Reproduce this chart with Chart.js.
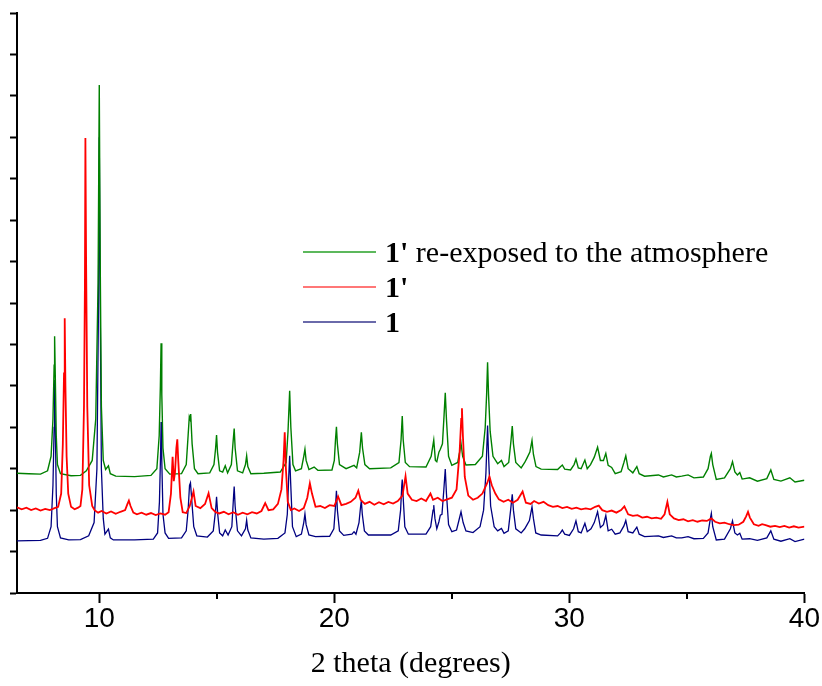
<!DOCTYPE html>
<html>
<head>
<meta charset="utf-8">
<script src="https://cdn.jsdelivr.net/npm/chart.js@4/dist/chart.umd.min.js"></script>
<style>
  html, body { margin: 0; padding: 0; background: #fff; }
  #wrap { position: relative; width: 822px; height: 686px; }
  #legend { position: absolute; left: 303px; top: 234px; font-family: 'Liberation Serif', 'Times New Roman', serif; font-size: 30px; color: #000; }
  .row { display: flex; align-items: center; height: 35px; line-height: 35px; white-space: nowrap; }
  .sw { display: inline-block; width: 73px; height: 2px; margin-right: 9px; }
</style>
</head>
<body>
<div id="wrap">
  <canvas id="c" width="822" height="686"></canvas>
  <div id="legend">
    <div class="row"><span class="sw" style="background:#5cb85c"></span><span><b>1'</b> re-exposed to the atmosphere</span></div>
    <div class="row"><span class="sw" style="background:#ff7777"></span><span><b>1'</b></span></div>
    <div class="row"><span class="sw" style="background:#6a6aaa"></span><span><b>1</b></span></div>
  </div>
</div>
<script>
// ---- data: [2theta (deg), intensity (offset, arb. units)] ----
const seriesNames = ["1' re-exposed to the atmosphere", "1'", "1"];
const xTicks = [10, 20, 30, 40];
const xMinorTicks = [15, 25, 35];
const yTicks = [0,1,2,3,4,5,6,7,8,9,10,11,12,13,14];

const green = [[6.5,2.89],[7.0,2.88],[7.5,2.87],[7.8,2.95],[7.95,3.3],[8.03,4.2],[8.08,5.5],[8.10,6.20],[8.13,5.2],[8.17,3.8],[8.22,3.1],[8.35,2.88],[8.8,2.83],[9.2,2.84],[9.45,2.95],[9.7,3.2],[9.85,4.2],[9.95,7.5],[10.0,12.26],[10.04,8.0],[10.09,4.5],[10.17,3.2],[10.27,2.98],[10.39,3.07],[10.47,2.88],[10.7,2.82],[11.5,2.81],[12.2,2.84],[12.45,3.0],[12.55,3.8],[12.60,5.0],[12.63,6.03],[12.66,4.8],[12.71,3.5],[12.8,3.0],[13.0,2.87],[13.5,2.88],[13.7,3.1],[13.78,3.8],[13.83,4.25],[13.86,4.20],[13.89,4.32],[13.95,3.6],[14.05,3.0],[14.2,2.88],[14.7,2.90],[14.88,3.1],[14.95,3.5],[14.99,3.81],[15.03,3.4],[15.12,2.95],[15.25,2.92],[15.36,3.07],[15.46,2.90],[15.62,3.1],[15.70,3.7],[15.74,3.97],[15.78,3.5],[15.88,2.95],[16.1,2.90],[16.22,3.1],[16.27,3.31],[16.32,3.05],[16.45,2.88],[17.0,2.89],[17.7,2.92],[17.95,3.15],[18.03,3.9],[18.10,4.88],[18.15,4.0],[18.24,3.1],[18.35,2.95],[18.6,3.0],[18.70,3.3],[18.75,3.47],[18.80,3.2],[18.92,2.98],[19.14,3.04],[19.3,2.96],[19.9,2.97],[20.0,3.2],[20.05,3.7],[20.09,4.01],[20.13,3.6],[20.22,3.1],[20.5,3.0],[20.84,3.08],[20.95,3.02],[21.08,3.4],[21.15,3.88],[21.20,3.5],[21.3,3.1],[21.5,3.00],[22.4,3.02],[22.75,3.15],[22.84,3.7],[22.89,4.27],[22.93,3.7],[23.02,3.15],[23.2,3.05],[23.9,3.04],[24.12,3.3],[24.23,3.69],[24.30,3.2],[24.36,3.17],[24.45,3.4],[24.51,3.47],[24.6,3.6],[24.67,4.3],[24.72,4.83],[24.77,4.2],[24.86,3.3],[25.0,3.08],[25.25,3.15],[25.33,3.4],[25.39,3.61],[25.46,3.3],[25.6,3.09],[26.0,3.1],[26.3,3.3],[26.42,4.0],[26.48,4.8],[26.52,5.57],[26.56,4.8],[26.63,3.9],[26.75,3.3],[26.95,3.12],[27.11,3.2],[27.22,3.05],[27.42,3.15],[27.52,3.7],[27.57,4.03],[27.62,3.6],[27.72,3.15],[27.95,3.02],[28.1,3.15],[28.19,3.25],[28.32,3.4],[28.41,3.68],[28.47,3.35],[28.58,3.05],[28.8,2.99],[29.5,2.98],[29.62,3.05],[29.70,3.09],[29.8,2.99],[30.05,2.97],[30.2,3.1],[30.28,3.23],[30.38,3.02],[30.5,3.00],[30.66,3.21],[30.76,3.00],[30.9,3.1],[31.06,3.28],[31.20,3.52],[31.32,3.2],[31.45,3.2],[31.55,3.37],[31.65,3.08],[31.80,3.03],[31.95,2.88],[32.2,2.93],[32.32,3.15],[32.40,3.31],[32.50,3.0],[32.7,2.9],[32.87,3.05],[32.97,2.88],[33.2,2.82],[33.79,2.85],[34.0,2.80],[34.35,2.85],[34.55,2.80],[34.78,2.82],[35.05,2.85],[35.3,2.78],[35.7,2.80],[35.9,3.0],[36.0,3.3],[36.04,3.37],[36.10,3.1],[36.25,2.74],[36.6,2.78],[36.85,3.0],[36.94,3.17],[37.04,2.92],[37.15,2.85],[37.25,2.91],[37.35,2.75],[37.67,2.78],[38.0,2.70],[38.4,2.76],[38.57,2.97],[38.70,2.74],[39.0,2.70],[39.38,2.78],[39.6,2.68],[40.0,2.72]];

const red = [[6.5,2.07],[6.7,2.02],[6.9,2.06],[7.1,2.00],[7.3,2.04],[7.5,1.99],[7.7,2.03],[7.9,2.00],[8.1,2.05],[8.25,2.08],[8.38,2.4],[8.45,3.6],[8.50,5.3],[8.53,6.63],[8.56,5.0],[8.61,3.3],[8.68,2.4],[8.8,2.08],[8.95,2.02],[9.1,2.06],[9.2,2.1],[9.28,2.5],[9.35,4.5],[9.39,7.5],[9.41,10.98],[9.44,8.0],[9.49,4.5],[9.57,2.6],[9.7,2.1],[9.8,2.0],[9.95,1.94],[10.1,1.98],[10.3,1.92],[10.5,1.97],[10.7,1.91],[10.9,1.96],[11.1,2.0],[11.2,2.15],[11.26,2.23],[11.33,2.1],[11.45,1.94],[11.6,1.90],[11.8,1.94],[12.0,1.89],[12.2,1.93],[12.4,1.88],[12.6,1.92],[12.8,1.89],[12.95,1.95],[13.05,2.4],[13.12,3.29],[13.17,2.7],[13.22,2.9],[13.28,3.5],[13.32,3.71],[13.36,3.2],[13.45,2.3],[13.55,1.95],[13.7,1.93],[13.85,2.1],[14.01,2.45],[14.1,2.1],[14.3,2.05],[14.5,2.15],[14.65,2.41],[14.78,2.05],[14.95,1.95],[15.1,1.92],[15.3,1.96],[15.5,1.90],[15.7,1.95],[15.9,1.89],[16.1,1.94],[16.3,1.90],[16.5,1.95],[16.7,1.92],[16.9,1.98],[17.06,2.17],[17.2,2.0],[17.4,2.02],[17.6,2.15],[17.75,2.5],[17.84,3.2],[17.89,3.88],[17.94,3.0],[18.02,2.2],[18.15,2.0],[18.3,2.04],[18.5,1.98],[18.7,2.05],[18.85,2.3],[18.96,2.65],[19.05,2.4],[19.2,2.08],[19.4,2.10],[19.6,2.05],[19.8,2.12],[20.0,2.10],[20.16,2.33],[20.3,2.12],[20.5,2.15],[20.7,2.2],[20.9,2.3],[21.02,2.47],[21.12,2.25],[21.3,2.15],[21.5,2.2],[21.7,2.13],[21.9,2.19],[22.1,2.14],[22.3,2.2],[22.5,2.16],[22.7,2.22],[22.9,2.35],[23.03,2.82],[23.12,2.4],[23.3,2.25],[23.5,2.22],[23.7,2.28],[23.9,2.22],[24.09,2.4],[24.2,2.25],[24.4,2.3],[24.6,2.22],[24.8,2.26],[25.0,2.3],[25.2,2.5],[25.33,3.4],[25.40,4.2],[25.43,4.46],[25.47,3.8],[25.55,2.8],[25.7,2.35],[25.9,2.25],[26.1,2.3],[26.3,2.4],[26.5,2.65],[26.60,2.81],[26.7,2.6],[26.85,2.4],[27.0,2.26],[27.2,2.2],[27.4,2.25],[27.6,2.18],[27.8,2.25],[28.01,2.45],[28.15,2.18],[28.35,2.15],[28.5,2.22],[28.7,2.16],[28.9,2.20],[29.1,2.12],[29.3,2.08],[29.5,2.10],[29.7,2.05],[29.9,2.08],[30.1,2.03],[30.3,2.06],[30.5,2.02],[30.7,2.04],[30.9,2.02],[31.1,2.08],[31.25,2.11],[31.4,2.0],[31.6,1.96],[31.8,1.99],[32.0,1.94],[32.2,2.0],[32.34,2.09],[32.5,1.9],[32.7,1.86],[32.9,1.88],[33.1,1.82],[33.3,1.84],[33.5,1.80],[33.7,1.82],[33.9,1.79],[34.05,1.9],[34.17,2.20],[34.27,1.9],[34.45,1.80],[34.65,1.76],[34.85,1.78],[35.05,1.73],[35.25,1.76],[35.45,1.72],[35.65,1.75],[35.85,1.74],[36.04,1.80],[36.2,1.72],[36.4,1.68],[36.6,1.70],[36.8,1.66],[37.0,1.64],[37.2,1.65],[37.4,1.72],[37.52,1.85],[37.60,1.96],[37.68,1.82],[37.85,1.66],[38.05,1.62],[38.2,1.66],[38.35,1.64],[38.55,1.60],[38.75,1.62],[38.95,1.59],[39.15,1.62],[39.35,1.58],[39.55,1.61],[39.75,1.58],[40.0,1.60]];

const blue = [[6.5,1.26],[7.5,1.27],[7.8,1.32],[7.95,1.6],[8.03,2.6],[8.08,4.0],[8.10,5.14],[8.13,4.0],[8.17,2.4],[8.22,1.6],[8.35,1.33],[8.7,1.28],[9.2,1.29],[9.55,1.38],[9.78,1.7],[9.9,3.0],[9.96,6.5],[10.0,11.0],[10.04,7.0],[10.09,3.0],[10.17,1.8],[10.24,1.42],[10.39,1.54],[10.47,1.33],[10.6,1.28],[11.5,1.28],[12.3,1.30],[12.48,1.45],[12.56,2.2],[12.61,3.4],[12.63,4.13],[12.66,3.2],[12.71,1.9],[12.8,1.45],[12.95,1.32],[13.5,1.33],[13.7,1.5],[13.78,2.0],[13.84,2.6],[13.88,2.66],[13.94,2.2],[14.02,1.6],[14.15,1.38],[14.6,1.35],[14.85,1.5],[14.95,2.0],[14.99,2.32],[15.04,1.9],[15.12,1.45],[15.25,1.38],[15.36,1.52],[15.48,1.40],[15.64,1.6],[15.71,2.3],[15.74,2.57],[15.78,2.1],[15.88,1.5],[16.05,1.38],[16.22,1.55],[16.27,1.76],[16.32,1.52],[16.45,1.33],[17.0,1.30],[17.6,1.32],[17.9,1.45],[18.0,1.9],[18.06,2.8],[18.10,3.31],[18.14,2.7],[18.22,1.6],[18.38,1.36],[18.6,1.42],[18.7,1.7],[18.75,1.91],[18.8,1.65],[18.92,1.40],[19.2,1.36],[19.8,1.37],[19.98,1.55],[20.05,2.1],[20.09,2.47],[20.13,2.0],[20.22,1.5],[20.4,1.39],[20.75,1.42],[20.84,1.48],[20.92,1.42],[21.05,1.7],[21.12,2.1],[21.15,2.23],[21.19,1.9],[21.28,1.5],[21.45,1.40],[22.4,1.40],[22.72,1.5],[22.82,2.0],[22.87,2.6],[22.89,2.74],[22.93,2.3],[23.0,1.6],[23.15,1.42],[23.9,1.42],[24.1,1.6],[24.2,2.0],[24.23,2.12],[24.28,1.8],[24.36,1.55],[24.45,1.72],[24.51,1.88],[24.58,1.9],[24.66,2.5],[24.72,2.99],[24.77,2.4],[24.86,1.65],[25.0,1.48],[25.2,1.52],[25.3,1.75],[25.39,1.96],[25.48,1.70],[25.6,1.50],[25.9,1.46],[26.2,1.6],[26.35,2.0],[26.45,2.9],[26.52,4.04],[26.57,3.2],[26.65,2.1],[26.8,1.6],[26.95,1.50],[27.11,1.56],[27.22,1.44],[27.4,1.50],[27.5,2.0],[27.57,2.38],[27.62,2.0],[27.72,1.55],[27.95,1.45],[28.1,1.55],[28.19,1.64],[28.3,1.75],[28.41,2.08],[28.47,1.8],[28.57,1.45],[28.8,1.40],[29.5,1.38],[29.62,1.45],[29.7,1.52],[29.8,1.42],[30.0,1.39],[30.18,1.55],[30.28,1.74],[30.38,1.48],[30.5,1.45],[30.66,1.68],[30.76,1.48],[30.92,1.55],[31.06,1.70],[31.2,1.96],[31.32,1.58],[31.45,1.65],[31.55,1.87],[31.65,1.50],[31.8,1.54],[31.95,1.42],[32.15,1.45],[32.32,1.62],[32.4,1.75],[32.5,1.48],[32.7,1.45],[32.87,1.59],[32.97,1.42],[33.2,1.36],[33.79,1.38],[34.0,1.34],[34.35,1.38],[34.55,1.33],[34.78,1.33],[35.05,1.36],[35.3,1.31],[35.7,1.32],[35.9,1.45],[36.0,1.80],[36.04,1.92],[36.1,1.6],[36.25,1.28],[36.6,1.30],[36.85,1.55],[36.94,1.74],[37.04,1.45],[37.15,1.40],[37.25,1.44],[37.35,1.30],[37.67,1.31],[38.0,1.27],[38.4,1.33],[38.57,1.50],[38.7,1.30],[39.0,1.25],[39.38,1.31],[39.6,1.24],[40.0,1.30]];

const toPts = arr => arr.map(p => ({ x: p[0], y: p[1] }));

const minorTicks = {
  id: 'minorTicks',
  afterDraw(chart) {
    const s = chart.scales.x, ctx = chart.ctx;
    ctx.save();
    ctx.strokeStyle = '#000';
    ctx.lineWidth = 2;
    xMinorTicks.forEach(v => {
      const px = Math.round(s.getPixelForValue(v));
      ctx.beginPath();
      ctx.moveTo(px, s.top);
      ctx.lineTo(px, s.top + 6);
      ctx.stroke();
    });
    ctx.restore();
  }
};

new Chart(document.getElementById('c'), {
  type: 'line',
  data: {
    datasets: [
      { label: seriesNames[1], data: toPts(red), borderColor: '#ff0000', borderWidth: 1.8 },
      { label: seriesNames[0], data: toPts(green), borderColor: '#008000', borderWidth: 1.4 },
      { label: seriesNames[2], data: toPts(blue), borderColor: '#000080', borderWidth: 1.3 }
    ]
  },
  options: {
    responsive: false,
    animation: false,
    events: [],
    elements: { point: { radius: 0 }, line: { tension: 0 } },
    layout: { padding: { left: 10, right: 17, top: 13, bottom: 7 } },
    plugins: { legend: { display: false }, tooltip: { enabled: false }, title: { display: false } },
    scales: {
      x: {
        type: 'linear',
        min: 6.5, max: 40,
        afterBuildTicks: s => { s.ticks = xTicks.map(v => ({ value: v })); },
        ticks: { color: '#000', padding: 2, font: { family: "'Liberation Sans Narrow', 'Liberation Sans', Arial, sans-serif", size: 28, lineHeight: 1 } },
        grid: { drawOnChartArea: false, drawTicks: true, tickLength: 10, tickColor: '#000', tickWidth: 2 },
        border: { display: true, color: '#000', width: 2 },
        title: { display: true, text: '2 theta (degrees)', color: '#000', padding: { top: 14, bottom: 0 }, font: { family: "'Liberation Serif', 'Times New Roman', serif", size: 30, lineHeight: 1 } }
      },
      y: {
        type: 'linear',
        min: 0, max: 14,
        afterBuildTicks: s => { s.ticks = yTicks.map(v => ({ value: v })); },
        ticks: { display: false },
        grid: { drawOnChartArea: false, drawTicks: true, tickLength: 7, tickColor: '#000', tickWidth: 2 },
        border: { display: true, color: '#000', width: 2 }
      }
    }
  },
  plugins: [minorTicks]
});
</script>
</body>
</html>
